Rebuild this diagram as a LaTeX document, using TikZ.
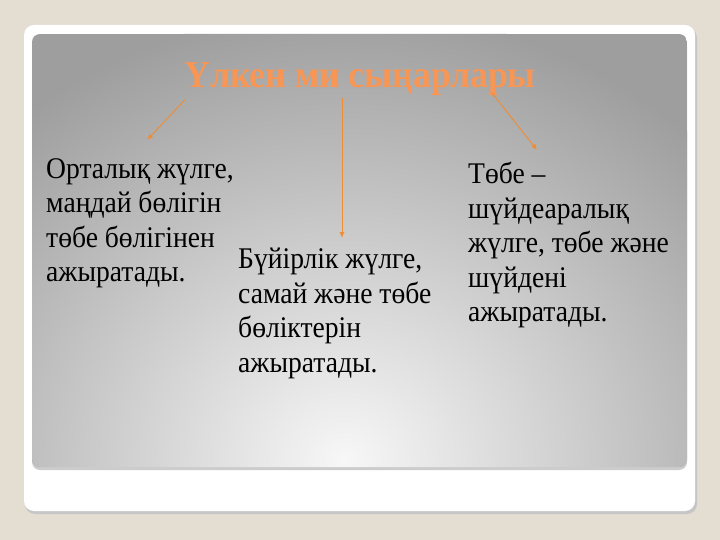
\documentclass[tikz,border=0pt]{standalone}
\usepackage{fontspec}
\setmainfont{Liberation Serif}
\newfontfamily\narrowserif[FakeStretch=0.92]{Liberation Serif}
\newfontfamily\narrowtitle[FakeStretch=0.94]{Liberation Serif}
\usetikzlibrary{positioning,arrows.meta}
\definecolor{slidebg}{RGB}{227,221,210}
\definecolor{panelgray}{RGB}{158,158,158}
\definecolor{panellight}{RGB}{247,247,247}
\definecolor{titleorange}{RGB}{247,150,85}
\definecolor{arroworange}{RGB}{240,140,50}
\pgfdeclareradialshading{panelshade}{\pgfpoint{0bp}{0bp}}{color(0bp)=(panellight); color(25bp)=(panelgray); color(50bp)=(panelgray)}
\tikzset{
	block/.style={anchor=north west, inner sep=0pt, align=left, font=\narrowserif\fontsize{30}{34.5}\selectfont},
	arr/.style={-{Latex[length=6pt,width=5pt]}, arroworange, line width=0.9pt}
}

\begin{document}
\begin{tikzpicture}[x=1pt,y=-1pt]
		
		\useasboundingbox (0,0) rectangle (720,540);
		\fill[slidebg] (0,0) rectangle (720,540);
		
		% card and panel
		\fill[gray!45,rounded corners=10] (25,28) rectangle (697,514);
		\fill[white,rounded corners=10] (24,25) rectangle (695,511);
		\fill[gray!40,rounded corners=8] (32,37) rectangle (687,470);
		\begin{scope}
			\clip[rounded corners=8] (32,34) rectangle (687,467);
			\fill[panelgray] (32,34) rectangle (687,467);
			\shade[shading=panelshade] (345,460) ellipse (500 and 450);
		\end{scope}
		
		\node(T) at (360,79) {\textcolor{titleorange}{\narrowtitle\fontsize{38}{42}\selectfont\bfseries Үлкен ми сыңарлары}};
		
		\node(L) [block] at (46,158)  {Орталық жүлге,\\ маңдай бөлігін\\ төбе бөлігінен\\ ажыратады.};
		\node(M) [block] at (238,248) {Бүйірлік жүлге,\\ самай және төбе\\ бөліктерін\\ ажыратады.};
		\node(R) [block] at (468,162) {Төбе –\\ шүйдеаралық\\ жүлге, төбе және\\ шүйдені\\ ажыратады.};
		
		\coordinate(eL) at (147,140);
		\coordinate(eM) at (342,238);
		\coordinate(eR) at (537,150);
		
		\draw[arr] (T.south west) ++(4,1) -- (eL);
		\draw[arr] (342,98) -- (eM);
		\draw[arr] (492,93) -- (eR);
		
	\end{tikzpicture}
\end{document}
